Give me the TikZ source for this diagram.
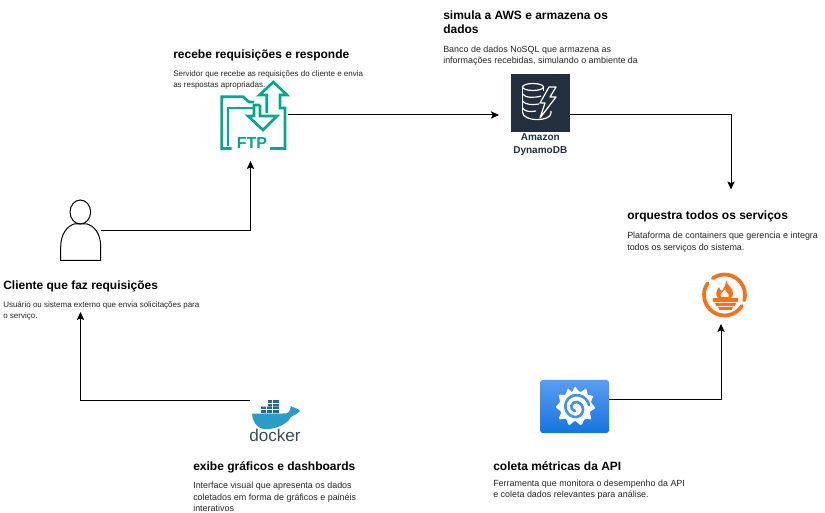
\documentclass[tikz,border=0pt]{standalone}
\usepackage{fontspec}
\setmainfont{Liberation Sans}
\usetikzlibrary{arrows.meta,positioning}
\definecolor{ftpgreen}{HTML}{01A88D}
\definecolor{awsdark}{HTML}{232F3E}
\definecolor{promorange}{HTML}{F7701A}
\definecolor{dockerblue}{HTML}{2A9CC6}
\definecolor{dockerdark}{HTML}{3A4D54}
\definecolor{grafanatop}{HTML}{5B9CF0}
\definecolor{grafanabottom}{HTML}{1575DF}
\tikzset{
  icon/.style={rectangle, inner sep=0pt, outer sep=0pt},
  heading/.style={font=\bfseries\fontsize{9}{10.5}\selectfont, align=left, inner sep=0pt, anchor=north west},
  desc/.style={font=\fontsize{6}{8.25}\selectfont, text=black!85, align=left, inner sep=0pt, anchor=north west},
  bigdesc/.style={desc, font=\fontsize{6.7}{8.5}\selectfont},
  line/.style={draw, -{Stealth[length=6pt,width=5.5pt,inset=1.2pt]}, line width=.75pt},
  ftpline/.style={draw=ftpgreen, line width=2pt, line join=miter},
}
\begin{document}
\begin{tikzpicture}[x=.75pt,y=-.75pt]
\useasboundingbox (0,0) rectangle (825,513);

\node [icon, minimum width=30pt, minimum height=45pt] (user) at (80.7,230.5) {};
\node [icon, minimum width=51pt, minimum height=52.5pt] (ftp) at (254,117) {};
\node [icon, minimum width=44pt, minimum height=43.5pt, fill=awsdark] (dynamo) at (540.3,103) {};
\node [icon, minimum width=38pt, minimum height=38pt] (prom) at (724.5,295) {};
\node [icon, minimum width=51.75pt, minimum height=39.75pt, rounded corners=2pt, top color=grafanatop, bottom color=grafanabottom] (grafana) at (574.5,406.5) {};
\node [icon, minimum width=37.5pt, minimum height=31.5pt] (docker) at (275,421) {};
\coordinate (ftpin) at (250.5,161);
\coordinate (promtop) at (731,189.5);
\coordinate (prombottom) at (721,324);
\coordinate (userin) at (80.5,312);

% user
\draw [line width=.75pt] (80.3,212) ellipse (10.3 and 12);
\draw [line width=.75pt] (60.7,260.3) -- (60.7,247) .. controls (60.7,233) and (68,226) .. (74,224) -- (87,224) .. controls (94,226) and (100.7,233) .. (100.7,247) -- (100.7,260.3) -- cycle;

% ftp
\draw [ftpline] (231.7,148.5) -- (221.7,148.5) -- (221.7,96.7) -- (243,96.7) -- (249,102) -- (254,102);
\draw [ftpline] (228,146) -- (228,108) -- (254,108);
\draw [ftpline] (270,148.5) -- (285,148.5) -- (285,108) -- (280,108) -- (280,95) -- (287,95) -- (273.3,82) -- (259.5,95) -- (266.7,95) -- (266.7,113);
\draw [ftpline] (260,105) -- (254,105) -- (254,116) -- (248,116) -- (263,130) -- (277,116) -- (260,116) -- (260,105);
\node [icon, text=ftpgreen, font=\bfseries\fontsize{12}{12}\selectfont] (ftplabel) at (252,143) {FTP};

% dynamodb
\begin{scope}[white, line width=.9pt]
\draw (533,87) ellipse (10.5 and 3.5);
\draw (522.5,87) -- (522.5,112);
\draw (522.5,94) .. controls (525,98) and (535,98) .. (541,96);
\draw (522.5,101) .. controls (525,105) and (533,105) .. (539,104);
\draw (522.5,108) .. controls (525,112) and (531,112) .. (536,111);
\draw (522.5,112) .. controls (522.5,122) and (551,122) .. (551,113) -- (551,111);
\draw (543.5,91) -- (543.5,87);
\draw [line join=round] (549,87) -- (540,103) -- (545,103) -- (540,118) -- (556,97) -- (550,97) -- (556,87) -- cycle;
\end{scope}
\node [icon, text=awsdark, align=center, font=\bfseries\fontsize{7.5}{9.5}\selectfont, below=1.5pt of dynamo] (dynamolabel) {Amazon\\DynamoDB};

% prometheus
\begin{scope}[promorange]
\draw [line width=2.8pt, line cap=round] (724.5,295) ++(-125:20.5) arc [start angle=-125, end angle=15, x radius=20.5, y radius=20.5];
\draw [line width=2.8pt, line cap=round] (724.5,295) ++(32:20.5) arc [start angle=32, end angle=215, x radius=20.5, y radius=20.5];
\fill [even odd rule] (726,280) .. controls (727,286) and (734,288) .. (733,294) .. controls (733,296) and (732,297) .. (731,298) -- (718,298) .. controls (715,295) and (716,291) .. (719,287) .. controls (720,290) and (721,291) .. (722,291) .. controls (724,288) and (726,285) .. (726,280) -- cycle
  (725,289) .. controls (725,292) and (730,293) .. (728.5,297) -- (721,297) .. controls (719,294) and (723,292) .. (725,289) -- cycle;
\fill (713,298.5) rectangle (738,302);
\fill (715,303) -- (736,303) -- (735,306) -- (716,306) -- cycle;
\fill (718,307) -- (733,307) -- (731.5,310) -- (719.5,310) -- cycle;
\end{scope}

% grafana
\fill [white] plot [smooth cycle, tension=.6] coordinates {(575,387) (580,392) (586,389) (588,395) (593,396) (591,402) (595,408) (590,412) (591,419) (585,419) (581,425) (575,421) (569,425) (566,419) (559,419) (561,412) (556,407) (560,402) (559,395) (565,395) (568,389) (572,392)};
\draw [grafanabottom!80!white, line width=2pt, line cap=round] (589,405) .. controls (587,395) and (574,392) .. (568,399) .. controls (562,406) and (567,418) .. (577,417) .. controls (585,415) and (585,404) .. (577,402) .. controls (571,401) and (569,410) .. (575,411);

% docker
\fill [dockerblue!70!black] (261,406.5) rectangle (279,413) (268,400) rectangle (279,406);
\draw [white, line width=.3pt] (266,406.5) -- (266,413) (272,400) -- (272,413) (261,409.5) -- (279,409.5) (268,403) -- (279,403);
\fill [dockerblue] (252,413.5) -- (283,413.5) .. controls (288,414) and (290,412) .. (291,406) .. controls (293,408) and (300,409) .. (300,411) .. controls (297,415) and (293,415) .. (291,417) .. controls (286,426) and (272,430) .. (264,429) .. controls (256,428) and (252,420) .. (252,413.5) -- cycle;
\node [icon, text=dockerdark, font=\fontsize{12.8}{13}\selectfont] (dockerlabel) at (275,435.5) {docker};

% captions
\node [heading] (userhead) at (3,280.5) {Cliente que faz requisições};
\node [desc, below=6.5pt of userhead.south west, anchor=north west] (userdesc) {Usuário ou sistema externo que envia solicitações para\\o serviço.};
\node [heading] (ftphead) at (173,50) {recebe requisições e responde};
\node [desc, below=6.5pt of ftphead.south west, anchor=north west] (ftpdesc) {Servidor que recebe as requisições do cliente e envia\\as respostas apropriadas.};
\node [heading] (dynamohead) at (443,11) {simula a AWS e armazena os\\dados};
\node [bigdesc, below=8.5pt of dynamohead.south west, anchor=north west] (dynamodesc) {Banco de dados NoSQL que armazena as\\informações recebidas, simulando o ambiente da};
\node [heading] (promhead) at (627,211) {orquestra todos os serviços};
\node [bigdesc, below=7pt of promhead.south west, anchor=north west] (promdesc) {Plataforma de containers que gerencia e integra\\todos os serviços do sistema.};
\node [heading] (grafanahead) at (493,461) {coleta métricas da API};
\node [bigdesc, below=7pt of grafanahead.south west, anchor=north west] (grafanadesc) {Ferramenta que monitora o desempenho da API\\e coleta dados relevantes para análise.};
\node [heading] (dockerhead) at (193,461) {exibe gráficos e dashboards};
\node [bigdesc, below=7pt of dockerhead.south west, anchor=north west] (dockerdesc) {Interface visual que apresenta os dados\\coletados em forma de gráficos e painéis\\interativos};

% connectors
\path [line] (user.east) -| (ftpin);
\path [line] ([yshift=1.5pt]ftp.east) -- ([xshift=-9pt,yshift=-9pt]dynamo.west);
\path [line] ([yshift=-9pt]dynamo.east) -| (promtop);
\path [line] ([yshift=5.25pt]grafana.east) -| (prombottom);
\path [line] (docker.north west) -| (userin);
\end{tikzpicture}
\end{document}
